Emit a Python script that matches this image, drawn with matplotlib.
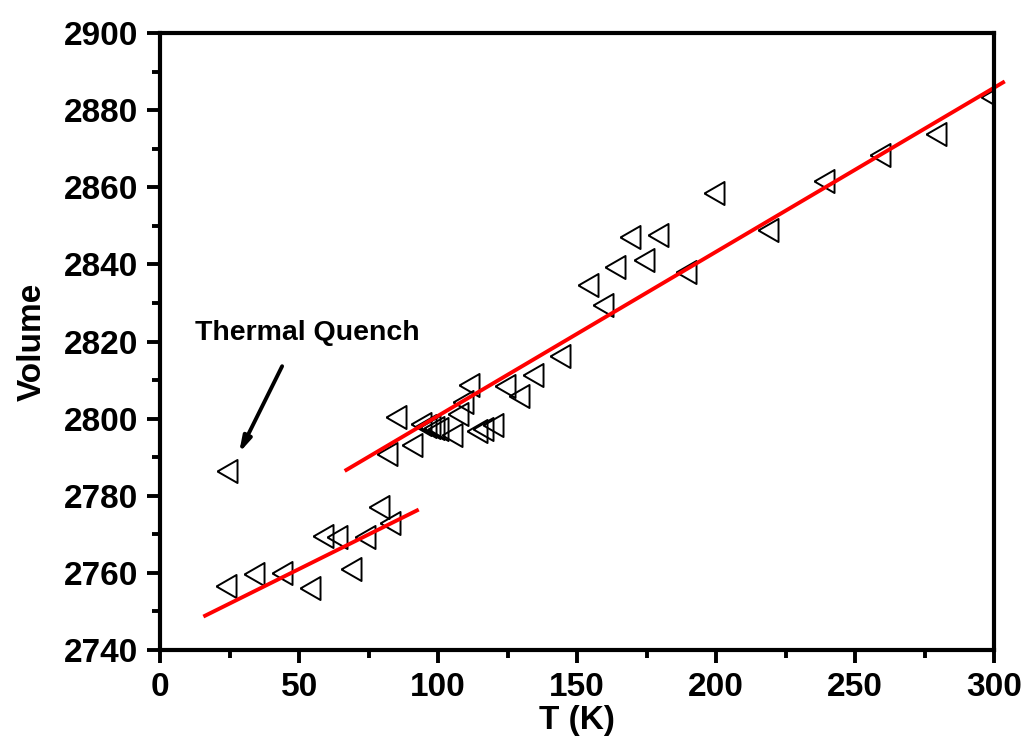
import matplotlib
matplotlib.use("Agg")
import matplotlib.pyplot as plt
from matplotlib.ticker import MultipleLocator

plt.rcParams['font.family'] = ['Liberation Sans', 'DejaVu Sans']
plt.rcParams['font.weight'] = 'bold'

# low temperature points
t_low = [23.8, 33.8, 43.9, 54.0, 58.7, 63.7, 68.8, 73.8, 78.9, 82.8]
v_low = [2756.6, 2759.6, 2760.1, 2756.1, 2769.7, 2769.2, 2761.0, 2769.3, 2777.2, 2772.9]

# thermal quench point
t_quench = [24.1]
v_quench = [2786.4]

# high temperature points
t_high = [81.7, 85.0, 90.7, 94.0, 95.5, 97.0, 98.5, 100.0, 105.0, 107.0, 109.0, 111.0,
          114.0, 116.3, 119.6, 124.0, 129.0, 134.0, 143.7, 153.8, 159.2, 163.8, 168.9,
          173.9, 179.0, 189.0, 199.1, 218.8, 238.7, 258.9, 278.9, 298.9]
v_high = [2790.9, 2800.5, 2793.2, 2798.5, 2798.2, 2797.9, 2797.6, 2797.3, 2795.7, 2801.2,
          2804.3, 2808.7, 2796.8, 2797.3, 2798.3, 2808.5, 2805.9, 2811.4, 2816.2, 2834.6,
          2829.6, 2839.3, 2847.2, 2841.1, 2847.5, 2838.0, 2858.4, 2848.9, 2861.7, 2868.4,
          2873.9, 2883.4]

# linear fits (end points)
fit_low_t = [16.2, 92.4]
fit_low_v = [2748.9, 2776.2]
fit_high_t = [67.0, 303.2]
fit_high_v = [2786.7, 2887.2]

fig = plt.figure(figsize=(10.26, 7.44), dpi=100)
ax = fig.add_axes([0.156, 0.1263, 0.813, 0.8293])

tri = [(-0.87, 0), (0.87, 1), (0.87, -1), (-0.87, 0)]
mk = dict(marker=tri, markersize=16.6, markerfacecolor='none', markeredgecolor='black',
          markeredgewidth=1.4, linestyle='none')

ax.plot(t_low, v_low, **mk)
ax.plot(t_quench, v_quench, **mk)
ax.plot(t_high, v_high, **mk)

ax.plot(fit_low_t, fit_low_v, color='red', lw=2.8)
ax.plot(fit_high_t, fit_high_v, color='red', lw=2.8, clip_on=False)

ax.annotate('', xy=(28.4, 2791.1), xytext=(43.9, 2813.6),
            arrowprops=dict(arrowstyle='-|>,head_length=0.9,head_width=0.25',
                            lw=2.8, color='black', shrinkA=0, shrinkB=0))
ax.text(12.6, 2820.4, 'Thermal Quench', fontsize=20.5, fontweight='bold', va='baseline')

ax.set_xlim(0, 300)
ax.set_ylim(2740, 2900)
ax.xaxis.set_major_locator(MultipleLocator(50))
ax.xaxis.set_minor_locator(MultipleLocator(25))
ax.yaxis.set_major_locator(MultipleLocator(20))
ax.yaxis.set_minor_locator(MultipleLocator(10))

for s in ax.spines.values():
    s.set_linewidth(3.0)
ax.tick_params(which='major', direction='out', length=9.5, width=2.8, labelsize=24, pad=6)
ax.tick_params(which='minor', direction='out', length=5.5, width=2.8)

ax.set_xlabel('T (K)', fontsize=24, fontweight='bold', labelpad=2)
ax.set_ylabel('Volume', fontsize=24, fontweight='bold', labelpad=12)

fig.savefig('out.png', dpi=100)
